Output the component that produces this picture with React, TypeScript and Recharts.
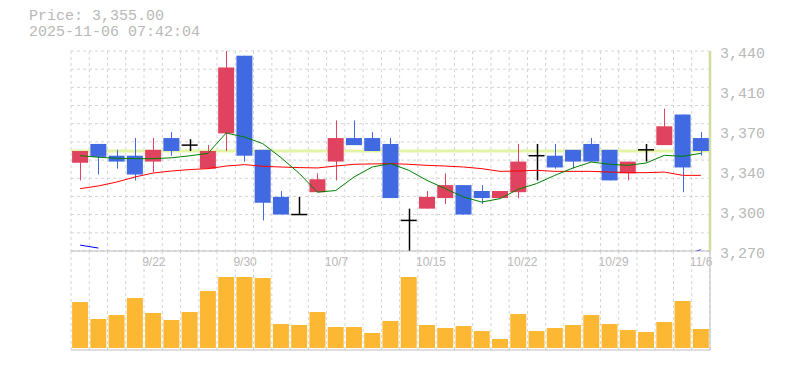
import React from 'react';
import { ComposedChart, BarChart, Bar, Line, XAxis, YAxis, CartesianGrid, ReferenceLine } from 'recharts';

const dates = [
  '9/16', '9/17', '9/18', '9/19', '9/22', '9/24', '9/25', '9/26', '9/29', '9/30',
  '10/1', '10/2', '10/3', '10/6', '10/7', '10/8', '10/9', '10/10', '10/14', '10/15',
  '10/16', '10/17', '10/20', '10/21', '10/22', '10/23', '10/24', '10/27', '10/28', '10/29',
  '10/30', '10/31', '11/4', '11/5', '11/6',
];
const opens = [
  3345, 3361, 3351, 3351, 3346, 3366, 3360, 3340, 3370, 3436,
  3356, 3316, 3301, 3320, 3346, 3366, 3366, 3361, 3296, 3306,
  3315, 3326, 3321, 3315, 3320, 3351, 3351, 3356, 3361, 3356,
  3336, 3356, 3360, 3386, 3366,
];
const highs = [
  3355, 3361, 3356, 3366, 3366, 3371, 3365, 3360, 3440, 3436,
  3356, 3321, 3316, 3336, 3381, 3381, 3371, 3366, 3306, 3321,
  3336, 3326, 3326, 3321, 3361, 3361, 3361, 3356, 3366, 3356,
  3346, 3361, 3391, 3386, 3371,
];
const lows = [
  3330, 3335, 3340, 3330, 3337, 3351, 3355, 3340, 3355, 3346,
  3296, 3301, 3301, 3320, 3330, 3360, 3355, 3315, 3270, 3306,
  3310, 3301, 3310, 3315, 3315, 3330, 3340, 3340, 3346, 3330,
  3330, 3346, 3360, 3320, 3351,
];
const closes = [
  3355, 3350, 3346, 3335, 3356, 3355, 3360, 3355, 3426, 3351,
  3311, 3301, 3301, 3331, 3366, 3360, 3355, 3315, 3296, 3316,
  3326, 3301, 3315, 3321, 3346, 3351, 3341, 3346, 3346, 3330,
  3346, 3356, 3376, 3341, 3355,
];
const ma5 = [
  3351, 3349.7, 3348.8, 3348.5, 3348.5, 3349.2, 3350.9, 3353, 3370.3, 3366.9,
  3361.3, 3349.4, 3336, 3320, 3321.4, 3332.9, 3341.4, 3344.3, 3338.6, 3330,
  3323, 3315.9, 3311.6, 3314.5, 3322.5, 3327.3, 3334.3, 3340.6, 3345.6, 3343.7,
  3342.8, 3344.8, 3351.3, 3350.5, 3353,
];
const ma25 = [
  3323, 3325.3, 3328.6, 3332.9, 3336.3, 3338, 3339.2, 3340, 3342.2, 3343.4,
  3342, 3341.4, 3340.9, 3340.6, 3342.2, 3343.7, 3344, 3344.3, 3343.7, 3342.8,
  3342.2, 3341.4, 3340, 3337.7, 3338, 3338.6, 3337.7, 3337.7, 3337.7, 3337.1,
  3336.6, 3336.6, 3337.1, 3334.3, 3334.3,
];
const ma75 = [
  3275, 3272.5, null, null, null, null, null, null, null, null,
  null, null, null, null, null, null, null, null, null, null,
  null, null, null, null, null, null, null, null, null, null,
  null, null, null, 3266.5, 3271,
];
const volumes = [
  46, 29, 33, 50, 35, 28, 36, 57, 71, 71,
  70, 24, 23, 36, 21, 21, 15, 27, 71, 23,
  20, 22, 17, 9, 34, 17, 20, 23, 33, 24,
  18, 16, 26, 47, 19,
];
const dateTicks = ['9/22', '9/30', '10/7', '10/15', '10/22', '10/29', '11/6'];
const priceTicks = [3270, 3304, 3338, 3372, 3406, 3440];
const lastPrice = 3355;

const UP = '#e0435f';
const DOWN = '#4169e1';
const GRID = '#d4d4d4';
const AXIS = '#bdbdbd';
const TEXT = '#b8b8b8';
const HILITE = '#e4f4a6';
const MONO = '"Liberation Mono", "DejaVu Sans Mono", monospace';

const rows = dates.map((date, i) => ({
  date,
  open: opens[i],
  high: highs[i],
  low: lows[i],
  close: closes[i],
  range: [lows[i], highs[i]],
  ma5: ma5[i],
  ma25: ma25[i],
  ma75: ma75[i],
  volume: volumes[i],
}));

const Candle = (props: any) => {
  const { x, y, width, height, payload } = props;
  const { open, close, high, low } = payload;
  const top = Math.min(y, y + height);
  const h = Math.abs(height);
  const k = high > low ? h / (high - low) : 0;
  const py = (v: number) => top + (high - v) * k;
  const cx = Math.round(x + width / 2) + 0.5;
  if (open === close) {
    return (
      <g>
        <line x1={cx} x2={cx} y1={py(high)} y2={py(low)} stroke="#000" strokeWidth={1.5} />
        <line x1={x} x2={x + width} y1={py(open)} y2={py(open)} stroke="#000" strokeWidth={1.5} />
      </g>
    );
  }
  const color = close > open ? UP : DOWN;
  const bt = py(Math.max(open, close));
  const bb = py(Math.min(open, close));
  return (
    <g>
      <line x1={cx} x2={cx} y1={py(high)} y2={py(low)} stroke={color} strokeWidth={1} />
      <rect x={x} y={bt} width={width} height={bb - bt} fill={color} />
    </g>
  );
};

const PriceTick = (props: any) => {
  const { x, y, payload } = props;
  const label = (Math.round(payload.value / 10) * 10).toLocaleString('en-US');
  return (
    <text x={x + 10} y={y + 7} fill={TEXT} fontSize={15} fontFamily={MONO} textAnchor="start">
      {label}
    </text>
  );
};

const DateTick = (props: any) => {
  const { x, y, payload } = props;
  return (
    <text x={x - 11} y={y + 15} fill={TEXT} fontSize={12} fontFamily='"Liberation Sans", Arial, sans-serif' textAnchor="start">
      {payload.value}
    </text>
  );
};

const vLines = ({ offset }: any) =>
  Array.from({ length: dates.length + 1 }, (_, i) => offset.left + (i * offset.width) / dates.length);
const hLines = ({ offset }: any) =>
  Array.from({ length: 12 }, (_, i) => offset.top + (i * offset.height) / 11);

const priceMargin = { top: 51, right: 0, bottom: 0, left: 71 };

export default function App() {
  return (
    <div style={{ position: 'absolute', left: 0, top: 0, width: 785, height: 370, background: '#fff', overflow: 'hidden' }}>
      <div style={{ position: 'absolute', left: 29, top: 9, fontFamily: MONO, fontSize: 15, lineHeight: '16px', color: TEXT }}>
        <div>Price: 3,355.00</div>
        <div>2025-11-06 07:42:04</div>
      </div>

      {/* back layer: grid and current-price highlight */}
      <div style={{ position: 'absolute', left: 0, top: 0 }}>
        <ComposedChart width={785} height={271} data={rows} margin={priceMargin} barCategoryGap="6%">
          <CartesianGrid stroke={GRID} strokeDasharray="3 3" verticalCoordinatesGenerator={vLines} horizontalCoordinatesGenerator={hLines} />
          <XAxis dataKey="date" height={20} tick={false} tickLine={false} axisLine={false} />
          <YAxis orientation="right" width={75} domain={[3270, 3440]} allowDataOverflow tick={false} tickLine={false} axisLine={false} />
          <ReferenceLine y={lastPrice} stroke={HILITE} strokeWidth={3} />
          <ReferenceLine x="11/6" stroke={HILITE} strokeWidth={3} />
        </ComposedChart>
      </div>

      {/* front layer: axes, moving averages, candles */}
      <div style={{ position: 'absolute', left: 0, top: 0 }}>
        <ComposedChart width={785} height={271} data={rows} margin={priceMargin} barCategoryGap="6%">
          <XAxis dataKey="date" ticks={dateTicks} interval={0} height={20} tickLine={false} tickSize={0} tickMargin={0} axisLine={{ stroke: AXIS }} tick={<DateTick />} />
          <YAxis orientation="right" width={75} domain={[3270, 3440]} ticks={priceTicks} allowDataOverflow tickLine={false} tickSize={0} tickMargin={0} axisLine={{ stroke: AXIS }} tick={<PriceTick />} />
          <Line type="linear" dataKey="ma25" stroke="#ff0000" strokeWidth={1} dot={false} isAnimationActive={false} />
          <Line type="linear" dataKey="ma5" stroke="#008000" strokeWidth={1} dot={false} isAnimationActive={false} />
          <Line type="linear" dataKey="ma75" stroke="#0000ff" strokeWidth={1} dot={false} connectNulls={false} isAnimationActive={false} />
          <Bar dataKey="range" shape={<Candle />} isAnimationActive={false} />
        </ComposedChart>
      </div>

      <div style={{ position: 'absolute', left: 0, top: 251 }}>
        <BarChart width={785} height={100} data={rows} margin={{ top: 0, right: 0, bottom: 0, left: 71 }} barCategoryGap="6%">
          <CartesianGrid stroke={GRID} strokeDasharray="3 3" horizontal={false} verticalCoordinatesGenerator={vLines} />
          <XAxis dataKey="date" height={1} tick={false} tickLine={false} axisLine={{ stroke: AXIS }} />
          <YAxis orientation="right" width={75} domain={[-2, 97]} tick={false} tickLine={false} axisLine={{ stroke: AXIS }} />
          <Bar dataKey="volume" fill="#fdb833" isAnimationActive={false} />
        </BarChart>
      </div>
    </div>
  );
}
